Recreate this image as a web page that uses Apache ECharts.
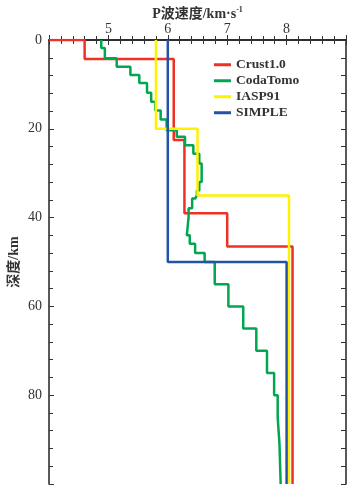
<!DOCTYPE html>
<html>
<head>
<meta charset="utf-8">
<script src="https://cdn.jsdelivr.net/npm/echarts@6/dist/echarts.min.js"></script>
<style>
html,body{margin:0;padding:0;background:#fff;}
#c{width:362px;height:498px;}
</style>
</head>
<body>
<div id="c"></div>
<script>
// ---- data (layer top depths in km, P velocities in km/s) ----
var seriesNames = ['Crust1.0', 'CodaTomo', 'IASP91', 'SIMPLE'];
var bottomDepth = 100;

var crustTops = [0, 0, 4.3, 22.5, 39, 46.5];
var crustVel  = [4.0, 4.6, 6.1, 6.28, 7.0, 8.1];

var codaTops = [0, 1.8, 4.1, 6.0, 7.9, 9.7, 11.9, 13.9, 15.9, 17.9, 20.3, 21.8, 23.7, 25.6, 27.8, 32, 33.9, 35, 35.7, 37.9, 39.9, 44, 45.9, 48, 50, 55, 60, 65, 70, 75, 80, 85, 91];
var codaVel  = [4.88, 4.94, 5.14, 5.37, 5.52, 5.65, 5.72, 5.79, 5.88, 5.98, 6.15, 6.29, 6.43, 6.53, 6.57, 6.53, 6.49, 6.46, 6.41, 6.35, 6.32, 6.37, 6.46, 6.62, 6.79, 7.02, 7.27, 7.49, 7.67, 7.79, 7.85, 7.88, 7.9];

var iaspTops = [0, 20, 35];
var iaspVel  = [5.8, 6.5, 8.04];

var simpleTops = [0, 50];
var simpleVel  = [6.0, 8.0];

var xTicks = [5, 6, 7, 8];
var yTicks = [0, 20, 40, 60, 80];

// build step profile points from layer arrays
function profile(tops, vel) {
  var pts = [];
  for (var i = 0; i < tops.length; i++) {
    var d0 = tops[i];
    var d1 = (i + 1 < tops.length) ? tops[i + 1] : bottomDepth;
    pts.push([vel[i], d0]);
    pts.push([vel[i], d1]);
  }
  return pts;
}

var colors = ['#ee3124', '#00a650', '#fff200', '#2453a4'];
var profiles = [
  profile(crustTops, crustVel),
  profile(codaTops, codaVel),
  profile(iaspTops, iaspVel),
  profile(simpleTops, simpleVel)
];

var serif = '"Liberation Serif","DejaVu Serif","Noto Sans CJK SC",serif';
var axisLine = {show: true, lineStyle: {color: '#222', width: 1.5}};

var chart = echarts.init(document.getElementById('c'), null, {renderer: 'canvas'});
chart.setOption({
  backgroundColor: '#fff',
  animation: false,
  grid: {left: 49, top: 40, right: 16, bottom: 14, containLabel: false, outerBoundsMode: 'none'},
  legend: {
    orient: 'vertical',
    left: 209,
    top: 53,
    icon: 'rect',
    itemWidth: 17,
    itemHeight: 3,
    itemGap: 2.5,
    textStyle: {fontFamily: serif, fontWeight: 'bold', fontSize: 13.5, color: '#333', lineHeight: 13},
    data: seriesNames
  },
  xAxis: [{
    type: 'value', position: 'top', min: 4, max: 9, interval: 1,
    name: 'P波速度/km·s{sup|-1}', nameLocation: 'middle', nameGap: 18, nameMoveOverlap: false,
    nameTextStyle: {fontFamily: serif, fontWeight: 'bold', fontSize: 14, color: '#333',
      rich: {sup: {fontSize: 8, verticalAlign: 'top', padding: [0,0,8,0], fontFamily: serif, fontWeight: 'bold', color: '#333'}}},
    axisLine: axisLine,
    axisTick: {show: true, inside: true, length: 5, lineStyle: {color: '#333'}},
    minorTick: {show: true, splitNumber: 5, length: 4, lineStyle: {color: '#333'}},
    splitLine: {show: false},
    axisLabel: {margin: 4, fontFamily: serif, fontSize: 14, color: '#333',
      formatter: function (v) { return xTicks.indexOf(v) >= 0 ? String(v) : ''; }}
  }, {
    type: 'value', position: 'bottom', min: 4, max: 9, interval: 1,
    axisLine: axisLine,
    axisTick: {show: true, inside: true, length: 5, lineStyle: {color: '#333'}},
    minorTick: {show: true, splitNumber: 5, length: 4, lineStyle: {color: '#333'}},
    splitLine: {show: false},
    axisLabel: {show: false}
  }],
  yAxis: [{
    type: 'value', inverse: true, min: 0, max: 100, interval: 20, position: 'left',
    name: '深度/km', nameLocation: 'middle', nameGap: 28, nameMoveOverlap: false,
    nameTextStyle: {fontFamily: serif, fontWeight: 'bold', fontSize: 14, color: '#333'},
    axisLine: axisLine,
    axisTick: {show: true, inside: true, length: 5, lineStyle: {color: '#333'}},
    minorTick: {show: true, splitNumber: 5, length: 4, lineStyle: {color: '#333'}},
    splitLine: {show: false},
    axisLabel: {margin: 7, fontFamily: serif, fontSize: 14, color: '#333',
      formatter: function (v) { return yTicks.indexOf(v) >= 0 ? String(v) : ''; }}
  }, {
    type: 'value', inverse: true, min: 0, max: 100, interval: 20, position: 'right',
    axisLine: axisLine,
    axisTick: {show: true, inside: true, length: 5, lineStyle: {color: '#333'}},
    minorTick: {show: true, splitNumber: 5, length: 5, lineStyle: {color: '#333'}},
    splitLine: {show: false},
    axisLabel: {show: false}
  }],
  series: seriesNames.map(function (n, i) {
    return {
      name: n, type: 'line', xAxisIndex: 0, yAxisIndex: 0,
      data: profiles[i], showSymbol: false, symbol: 'none',
      lineStyle: {color: colors[i], width: 2.5},
      itemStyle: {color: colors[i]},
      clip: true, z: 2 + i
    };
  })
});
</script>
</body>
</html>
